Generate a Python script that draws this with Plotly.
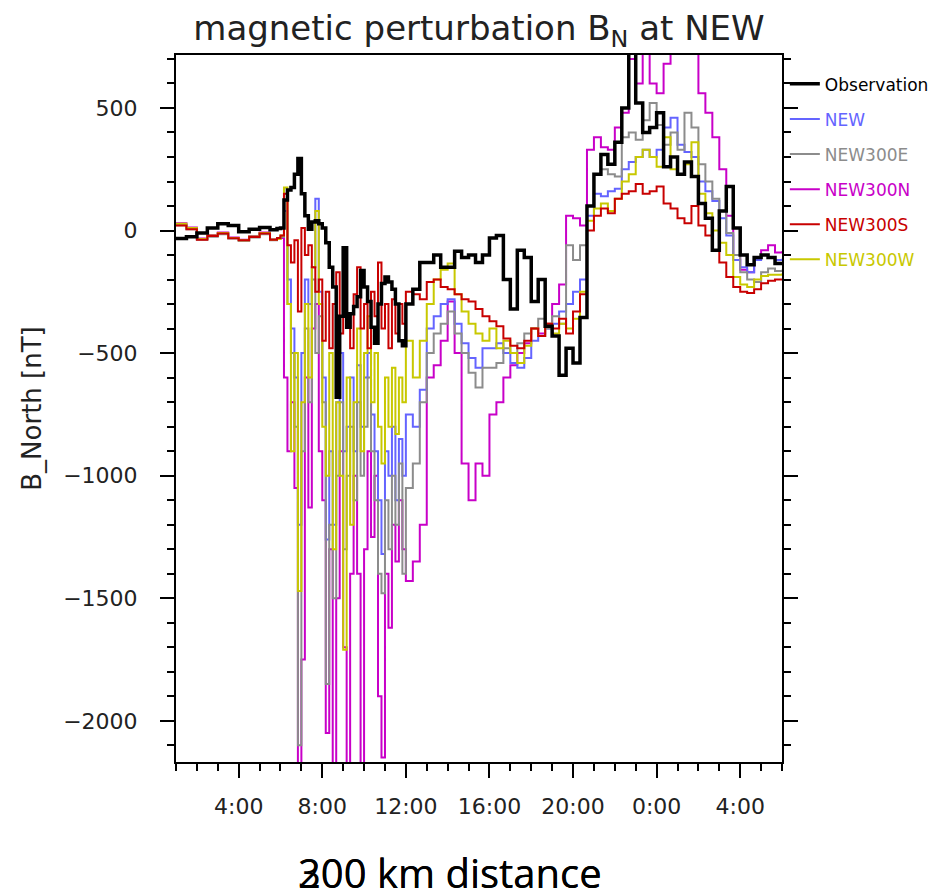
import plotly.graph_objects as go

# ---- time grid (hours since 0:00 of day 1) ----
t_quiet = [1.0 + 0.5 * i for i in range(10)]            # 1:00 .. 5:30
t_storm = [5 + 50 / 60 + i / 6 for i in range(38)]      # 5:50 .. 12:00 (10 min)
t_late = [12 + k / 3 for k in range(1, 55)]             # 12:20 .. 30:00 (20 min)
hours = t_quiet + t_storm + t_late

tick_hours = [4, 8, 12, 16, 20, 24, 28]
tick_labels = ["4:00", "8:00", "12:00", "16:00", "20:00", "0:00", "4:00"]

# ---- Observation ----
obs = ([-33, -25, -10, 10, 28, 20, -5, 5, 12, 3] +
       [8, 10, 125, 165, 175, 230, 294, 150, 60, 5, 35, 40, 28, 10, -50, -150, -230, -680, -350, -70,
        -395, -340, -310, -270, -163, -230, -290, -395, -460, -300, -216, -190, -210, -240, -300, -450, -470, -300] +
       [-240, -130, -130, -100, -150, -150, -85, -110, -100, -130, -100, -30, -20, -200, -320, -80, -110, -290,
        -200, -390, -430, -590, -480, -540, -355, 100, 230, 310, 270, 360, 500, 760, 520, 400, 420, 480, 260, 300,
        230, 280, 220, 110, 50, -80, 80, 180, 10, -100, -140, -110, -100, -110, -135, -135])

# ---- NEW ----
new = ([25, 8, -35, -22, -12, -30, -40, -25, -12, -38] +
       [-30, -25, 80, -200, -400, -600, -1200, -500, -200, -300, -150, 130, -250, -600, -1260, -900, -1200, -700,
        -500, -900, -800, -600, -900, -550, -800, -600, -500, -750, -900, -1100, -1320, -900, -1000, -800, -1100,
        -850, -1000, -750] +
       [-800, -650, -400, -350, -300, -280, -380, -460, -520, -560, -480, -480, -460, -500, -540, -560, -520, -450,
        -430, -400, -380, -330, -300, -250, -200, 60, 150, 140, 160, 170, 250, 280, 300, 330, 300, 330, 420, 460,
        350, 320, 300, 200, 160, 120, 50, -20, -120, -150, -170, -120, -100, -110, -120, -115])

# ---- NEW300E ----
new300e = ([22, 5, -38, -25, -15, -33, -42, -28, -15, -40] +
           [-30, -25, 120, -300, -500, -800, -2100, -900, -400, -700, -200, -500, -350, -700, -1850, -1200, -1500,
            -1000, -700, -1300, -1000, -800, -1100, -700, -1000, -800, -600, -900, -1100, -1400, -1480, -1100,
            -1300, -1000, -1200, -950, -1400, -1050] +
           [-950, -700, -500, -420, -380, -330, -420, -500, -580, -640, -560, -560, -540, -480, -500, -460, -420,
            -400, -360, -400, -350, -380, -60, -120, -60, 100, 230, 250, 230, 220, 380, 400, 370, 450, 520, 430,
            350, 400, 330, 480, 420, 270, 200, 130, 80, -10, -100, -170, -200, -210, -170, -155, -165, -160])

# ---- NEW300N ----
new300n = ([30, 12, -33, -18, -8, -28, -38, -22, -8, -36] +
           [-35, -30, -600, -900, -700, -1050, -2300, -1750, -600, -1130, -400, -300, -900, -1100, -2050, -1300,
            -2300, -1500, -900, -1700, -2300, -1400, -1000, -1400, -2300, -1300, -900, -1250, -1000, -1900, -2150,
            -1400, -1620, -1200, -1350, -1100, -1300, -1430] +
           [-1350, -1200, -600, -550, -450, -290, -500, -950, -1100, -950, -1000, -750, -700, -600, -550, -500,
            -460, -400, -420, -380, -300, -220, 60, 50, 20, 330, 380, 340, 330, 420, 480, 700, 600, 720, 600, 560,
            680, 720, 800, 780, 760, 560, 480, 380, 250, 60, -100, -160, -170, -110, -80, -60, -90, -85])

# ---- NEW300S ----
new300s = ([20, 5, -38, -22, -12, -32, -40, -26, -12, -38] +
           [-30, -20, 150, -60, -130, -40, -330, 10, -100, -60, -150, -250, -200, -450, -250, -480, -300, -170,
            -420, -150, -350, -480, -260, -150, -400, -300, -480, -250, -350, -130, -400, -300, -480, -280, -420,
            -300, -380, -250] +
           [-260, -280, -210, -200, -230, -240, -260, -280, -290, -320, -350, -370, -390, -440, -470, -480, -450,
            -400, -430, -380, -400, -360, -420, -330, -260, 0, 60, 90, 70, 130, 150, 160, 190, 150, 160, 180, 110,
            90, 50, 30, 100, 20, -20, -80, -130, -190, -230, -250, -255, -240, -215, -205, -200, -200])

# ---- NEW300W ----
new300w = ([28, 10, -35, -20, -10, -30, -40, -24, -10, -37] +
           [-35, -20, 175, -300, -900, -500, -1470, -700, -300, -600, -150, 80, -300, -800, -1000, -500, -1300,
            -700, -1000, -1710, -600, -1200, -700, -400, -900, -500, -350, -700, -500, -800, -950, -600, -800, -560,
            -830, -600, -700, -450] +
           [-600, -450, -300, -200, -160, -135, -260, -330, -380, -420, -450, -400, -480, -450, -500, -540, -470,
            -400, -430, -380, -420, -380, -400, -360, -250, 40, 90, 110, 80, 130, 200, 230, 300, 330, 300, 260,
            380, 250, 230, 270, 360, 150, 70, 0, -50, -100, -190, -220, -230, -200, -185, -180, -180, -175])

series = [
    # name, values, color, width, legend rank
    ("NEW300N", new300n, "#c800c8", 2, 4),
    ("NEW", new, "#6464ff", 2, 2),
    ("NEW300E", new300e, "#8c8c8c", 2, 3),
    ("NEW300W", new300w, "#c8c800", 2, 6),
    ("NEW300S", new300s, "#c80000", 2, 5),
    ("Observation", obs, "#000000", 3.5, 1),
]
text_colors = {"Observation": "#000000", "NEW": "#6464ff", "NEW300E": "#8c8c8c",
               "NEW300N": "#c800c8", "NEW300S": "#c80000", "NEW300W": "#c8c800"}

fig = go.Figure()
for name, vals, color, width, rank in series:
    fig.add_trace(go.Scatter(
        x=hours, y=vals, mode="lines",
        line=dict(color=color, width=width, shape="hv"),
        name=f"<span style='color:{text_colors[name]}'>{name}</span>",
        legendrank=rank, legendgroup=name,
    ))

tickfont = dict(family="DejaVu Sans", size=22, color="#222222")

W, H = 938, 885  # page body adds an 8 px offset
fig.update_layout(
    width=W, height=H,
    margin=dict(l=168, r=164, t=47, b=131, autoexpand=False),
    paper_bgcolor="white", plot_bgcolor="white",
    title=dict(text="magnetic perturbation B<sub>N</sub> at NEW", x=0.5, xref="paper",
               y=1 - 20 / H, yref="container", yanchor="middle", xanchor="center",
               font=dict(family="DejaVu Sans", size=34, color="#222222")),
    showlegend=True,
    legend=dict(x=1.0047, y=0.984, xanchor="left", yanchor="top", traceorder="grouped",
                tracegroupgap=10, itemwidth=30, bgcolor="rgba(0,0,0,0)",
                font=dict(family="DejaVu Sans", size=17, color="#000000")),
    xaxis=dict(range=[1, 30], tickmode="array", tickvals=tick_hours, ticktext=tick_labels,
               ticks="outside", ticklen=14, tickwidth=1.5, tickcolor="black",
               showline=True, linecolor="black", linewidth=2, mirror=True,
               showgrid=False, zeroline=False, tickfont=tickfont, ticklabelstandoff=10,
               minor=dict(tickmode="linear", tick0=0, dtick=1, ticks="outside", ticklen=7,
                          tickwidth=1.5, tickcolor="black", showgrid=False)),
    yaxis=dict(range=[-2168, 716], tickmode="linear", tick0=0, dtick=500,
               ticks="outside", ticklen=14, tickwidth=1.5, tickcolor="black",
               showline=True, linecolor="black", linewidth=2, mirror="ticks",
               showgrid=False, zeroline=False, tickfont=tickfont, ticklabelstandoff=18,
               title=dict(text="B_North [nT]", standoff=14,
                          font=dict(family="DejaVu Sans", size=26, color="#222222")),
               minor=dict(tickmode="linear", tick0=0, dtick=100, ticks="outside", ticklen=7,
                          tickwidth=1.5, tickcolor="black", showgrid=False)),
)

for label in ["200 km distance", "300 km distance"]:
    fig.add_annotation(text=label, xref="paper", yref="paper",
                       x=(450 - 176) / 606, y=(762 - 872) / 707,
                       xanchor="center", yanchor="middle", showarrow=False,
                       font=dict(family="Open Sans", size=40, color="black"))

fig.write_html("out.html")
